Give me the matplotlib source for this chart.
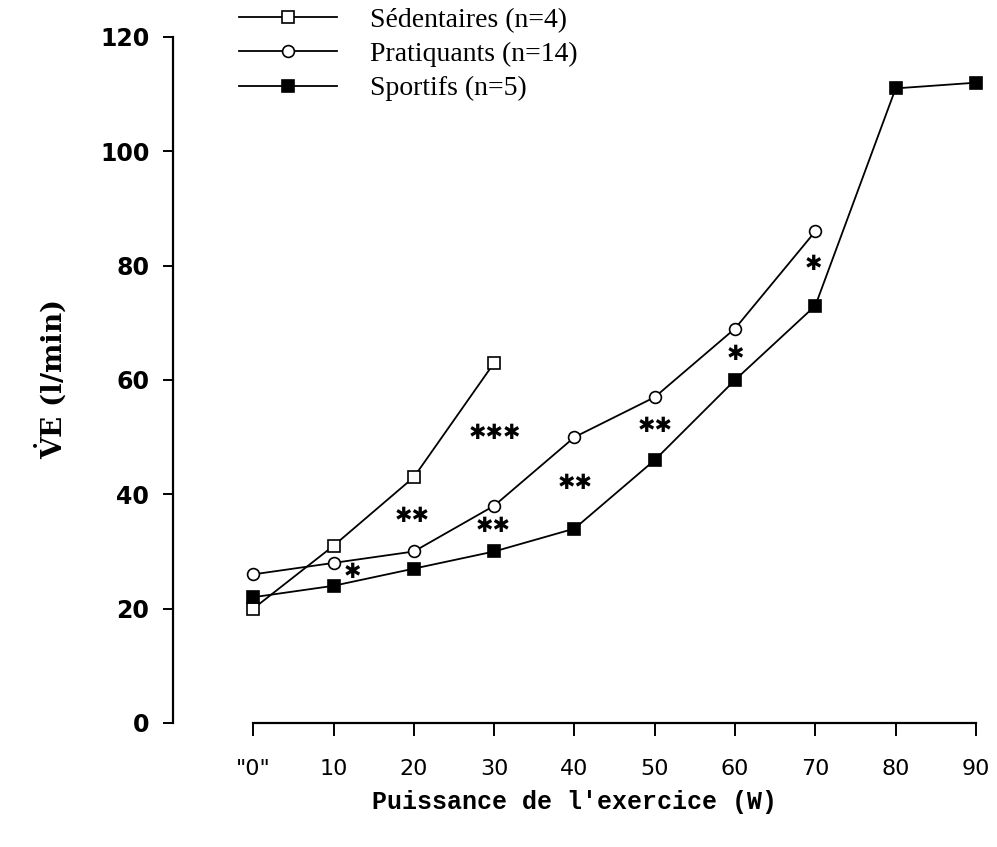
import numpy as np
import matplotlib
matplotlib.use('Agg')
import matplotlib.pyplot as plt

plt.rcParams['mathtext.fontset'] = 'dejavuserif'

# Puissance de l'exercice (W)
x_sed = [0, 10, 20, 30]
y_sed = [20, 31, 43, 63]

x_pra = [0, 10, 20, 30, 40, 50, 60, 70]
y_pra = [26, 28, 30, 38, 50, 57, 69, 86]

x_spo = [0, 10, 20, 30, 40, 50, 60, 70, 80, 90]
y_spo = [22, 24, 27, 30, 34, 46, 60, 73, 111, 112]

# significance marks (x, y, text)
stars_x = [12.3, 19.8, 30.1, 29.9, 40.1, 50.1, 60.0, 69.7]
stars_y = [26.4, 36.2, 50.7, 34.4, 42.0, 51.9, 64.5, 80.2]
stars_txt = ['*', '**', '***', '**', '**', '**', '*', '*']

xticks = [0, 10, 20, 30, 40, 50, 60, 70, 80, 90]
xticklabels = ['"0"', '10', '20', '30', '40', '50', '60', '70', '80', '90']
yticks = [0, 20, 40, 60, 80, 100, 120]

fig = plt.figure(figsize=(9.97, 8.47), dpi=100)
ax = fig.add_axes([0.1735, 0.1464, 0.8054, 0.81])

kw = dict(color='black', lw=1.3, markersize=8.5, markeredgewidth=1.2, clip_on=False)
l1, = ax.plot(x_sed, y_sed, marker='s', markerfacecolor='white', label='Sédentaires (n=4)', **kw)
l2, = ax.plot(x_pra, y_pra, marker='o', markerfacecolor='white', label='Pratiquants (n=14)', **kw)
l3, = ax.plot(x_spo, y_spo, marker='s', markerfacecolor='black', label='Sportifs (n=5)', **kw)

for sx, sy, st in zip(stars_x, stars_y, stars_txt):
    ax.text(sx, sy, '\u2731' * len(st), ha='center', va='center',
            fontsize=15, fontweight='bold', color='black', family='DejaVu Sans')

ax.set_xlim(-10, 90)
ax.set_ylim(0, 120)
for s in ['top', 'right']:
    ax.spines[s].set_visible(False)
ax.spines['bottom'].set_bounds(0, 90)
ax.spines['left'].set_linewidth(1.6)
ax.spines['bottom'].set_linewidth(1.6)

ax.set_xticks(xticks)
ax.set_xticklabels(xticklabels, fontsize=16, family='DejaVu Sans')
ax.set_yticks(yticks)
ax.set_yticklabels([str(v) for v in yticks], fontsize=17, fontweight='bold', family='DejaVu Sans')
ax.tick_params(axis='x', direction='out', length=9, width=1.4, pad=17)
ax.tick_params(axis='y', direction='out', length=7, width=1.4, pad=10)

ax.set_xlabel("Puissance de l'exercice (W)", fontsize=18, fontweight='bold',
              family='Liberation Mono', labelpad=8)
ax.set_ylabel(r'$\mathbf{\dot{V}}$E (l/min)', fontsize=20, fontweight='bold',
              family='DejaVu Serif', labelpad=22)

fig.legend(handles=[l1, l2, l3], loc='upper left', bbox_to_anchor=(0.215, 1.021),
           frameon=False, handlelength=3.5, handletextpad=1.2, labelspacing=0.32,
           prop={'family': 'Liberation Serif', 'size': 20})

fig.savefig('out.png', dpi=100)
